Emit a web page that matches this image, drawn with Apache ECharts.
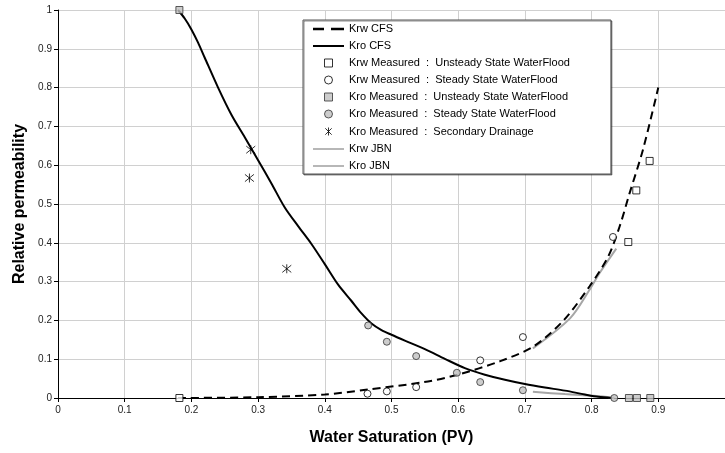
<!DOCTYPE html>
<html>
<head>
<meta charset="utf-8">
<style>html,body{margin:0;padding:0;background:#fff}#c{width:725px;height:453px}</style>
<script src="https://cdn.jsdelivr.net/npm/echarts@6/dist/echarts.min.js"></script>
</head>
<body>
<div id="c"></div>
<script>
// ---- data (water saturation, relative permeability) ----
var krwCFS = [[0.18,0],[0.30,0.002],[0.40,0.009],[0.465,0.022],[0.549,0.041],[0.599,0.060],[0.663,0.095],[0.713,0.133],[0.758,0.200],[0.797,0.288],[0.825,0.365],[0.842,0.442],[0.857,0.528],[0.877,0.640],[0.90,0.80]];
var kroCFS = [[0.18,1.0],[0.19,0.978],[0.20,0.950],[0.21,0.916],[0.22,0.877],[0.24,0.80],[0.26,0.73],[0.28,0.672],[0.30,0.613],[0.32,0.553],[0.34,0.491],[0.36,0.443],[0.38,0.397],[0.40,0.345],[0.42,0.292],[0.44,0.250],[0.455,0.218],[0.47,0.192],[0.485,0.175],[0.50,0.163],[0.52,0.148],[0.55,0.126],[0.58,0.101],[0.61,0.077],[0.64,0.060],[0.67,0.047],[0.70,0.036],[0.73,0.027],[0.76,0.019],[0.79,0.009],[0.81,0.003],[0.83,0]];
var krwUnsteady = [[0.182,0],[0.855,0.402],[0.867,0.535],[0.887,0.611]];
var krwSteady = [[0.464,0.011],[0.493,0.017],[0.537,0.028],[0.633,0.097],[0.697,0.157],[0.832,0.415]];
var kroUnsteady = [[0.182,1.0],[0.856,0],[0.868,0],[0.888,0]];
var kroSteady = [[0.465,0.187],[0.493,0.145],[0.537,0.108],[0.598,0.065],[0.633,0.041],[0.697,0.020],[0.834,0]];
var kroDrainage = [[0.289,0.640],[0.287,0.567],[0.343,0.333]];
var krwJBN = [[0.712,0.128],[0.768,0.206],[0.797,0.279],[0.812,0.322],[0.837,0.385]];
var kroJBN = [[0.712,0.016],[0.76,0.010],[0.817,0.004],[0.834,0]];
var names = ['Krw CFS','Kro CFS','Krw Measured  :  Unsteady State WaterFlood','Krw Measured  :  Steady State WaterFlood','Kro Measured  :  Unsteady State WaterFlood','Kro Measured  :  Steady State WaterFlood','Kro Measured  :  Secondary Drainage','Krw JBN','Kro JBN'];

var FONT = '"Liberation Sans", Arial, sans-serif';
var star = 'path://M0,-5L0,5M-4,-4L4,4M-4,4L4,-4';
var square = 'path://M0,0L10,0L10,10L0,10Z';
var solidIcon = 'path://M0,0L31,0L31,2L0,2Z';
var dashIcon = 'path://M0,0L11,0L11,2.6L0,2.6ZM18,0L31,0L31,2.6L18,2.6Z';
var thinIcon = 'path://M0,0L31,0L31,1.6L0,1.6Z';
var chart = echarts.init(document.getElementById('c'));
chart.setOption({
  animation: false,
  backgroundColor: '#fff',
  grid: {left: 58, right: -5, top: 10, bottom: 55, containLabel: false},
  legend: {
    orient: 'vertical', left: 303, top: 20,
    padding: [3, 41, 2, 10],
    backgroundColor: '#fff', borderColor: '#555', borderWidth: 1,
    shadowColor: 'rgba(0,0,0,0.45)', shadowOffsetX: 1, shadowOffsetY: 1, shadowBlur: 0,
    itemWidth: 31, itemHeight: 8, itemGap: 5,
    textStyle: {fontFamily: FONT, fontSize: 11, color: '#000', lineHeight: 12},
    data: [
      {name: names[0], icon: dashIcon, itemStyle: {color: '#000', borderWidth: 0}},
      {name: names[1], icon: solidIcon, itemStyle: {color: '#000', borderWidth: 0}},
      {name: names[2], icon: square, itemStyle: {color: '#fff', borderColor: '#000', borderWidth: 1}},
      {name: names[3], icon: 'circle', itemStyle: {color: '#fff', borderColor: '#000', borderWidth: 1}},
      {name: names[4], icon: square, itemStyle: {color: '#c0c0c0', borderColor: '#333', borderWidth: 1}},
      {name: names[5], icon: 'circle', itemStyle: {color: '#c0c0c0', borderColor: '#333', borderWidth: 1}},
      {name: names[6], icon: star, itemStyle: {color: 'none', borderColor: '#000', borderWidth: 1}},
      {name: names[7], icon: thinIcon, itemStyle: {color: '#a6a6a6', borderWidth: 0}},
      {name: names[8], icon: thinIcon, itemStyle: {color: '#a6a6a6', borderWidth: 0}}
    ]
  },
  xAxis: {
    type: 'value', min: 0, max: 1, interval: 0.1,
    name: 'Water Saturation (PV)', nameLocation: 'middle', nameGap: 32,
    nameTextStyle: {fontFamily: FONT, fontSize: 16, fontWeight: 'bold', color: '#000'},
    axisLine: {show: true, onZero: false, lineStyle: {color: '#000', width: 1}},
    axisTick: {show: true, length: 4, lineStyle: {color: '#000'}},
    axisLabel: {fontFamily: FONT, fontSize: 10, color: '#222', margin: 7, showMaxLabel: false},
    splitLine: {show: true, lineStyle: {color: '#d0d0d0', width: 1}}
  },
  yAxis: {
    type: 'value', min: 0, max: 1, interval: 0.1,
    name: 'Relative permeability', nameLocation: 'middle', nameGap: 30,
    nameTextStyle: {fontFamily: FONT, fontSize: 16, fontWeight: 'bold', color: '#000'},
    axisLine: {show: true, onZero: false, lineStyle: {color: '#000', width: 1}},
    axisTick: {show: true, length: 4, lineStyle: {color: '#000'}},
    axisLabel: {fontFamily: FONT, fontSize: 10, color: '#222', margin: 6},
    splitLine: {show: true, lineStyle: {color: '#d0d0d0', width: 1}}
  },
  series: [
    {name: names[0], type: 'line', data: krwCFS, smooth: 0.3, symbol: 'none', z: 4,
     lineStyle: {color: '#000', width: 2, type: [8, 5]}, itemStyle: {color: '#000'}},
    {name: names[1], type: 'line', data: kroCFS, smooth: 0.3, symbol: 'none', z: 4,
     lineStyle: {color: '#000', width: 2}, itemStyle: {color: '#000'}},
    {name: names[2], type: 'scatter', data: krwUnsteady, symbol: square, symbolSize: 7, z: 5,
     itemStyle: {color: '#fff', borderColor: '#000', borderWidth: 1}},
    {name: names[3], type: 'scatter', data: krwSteady, symbol: 'circle', symbolSize: 7, z: 5,
     itemStyle: {color: '#fff', borderColor: '#000', borderWidth: 1}},
    {name: names[4], type: 'scatter', data: kroUnsteady, symbol: square, symbolSize: 7, z: 5,
     itemStyle: {color: '#c0c0c0', borderColor: '#333', borderWidth: 1}},
    {name: names[5], type: 'scatter', data: kroSteady, symbol: 'circle', symbolSize: 7, z: 5,
     itemStyle: {color: '#c0c0c0', borderColor: '#333', borderWidth: 1}},
    {name: names[6], type: 'scatter', data: kroDrainage, symbol: star, symbolSize: 9, z: 5,
     itemStyle: {color: 'none', borderColor: '#000', borderWidth: 1}},
    {name: names[7], type: 'line', data: krwJBN, smooth: 0.3, symbol: 'none', z: 3,
     lineStyle: {color: '#a6a6a6', width: 2}, itemStyle: {color: '#a6a6a6'}},
    {name: names[8], type: 'line', data: kroJBN, smooth: 0.3, symbol: 'none', z: 3,
     lineStyle: {color: '#a6a6a6', width: 2}, itemStyle: {color: '#a6a6a6'}}
  ]
});
</script>
</body>
</html>
